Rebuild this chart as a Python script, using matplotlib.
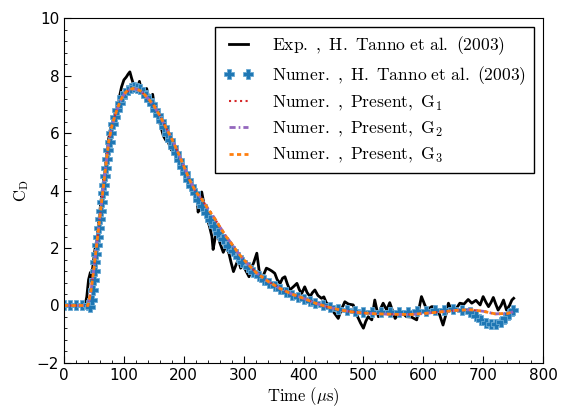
import matplotlib
matplotlib.use('Agg')
import matplotlib.pyplot as plt
from matplotlib.ticker import AutoMinorLocator

plt.rcParams['mathtext.fontset'] = 'cm'

# Experiment, H. Tanno et al. (2003)
t_exp = [0, 35, 38, 41, 44, 46, 49, 52, 55, 58, 61, 65, 69, 73, 77, 80, 83, 86, 90, 93,
         96, 100, 104, 107, 110, 113, 116, 119, 122, 126, 130, 134, 138, 142, 145, 148, 152,
         156, 160, 166, 170, 174, 178, 182, 188, 193, 197, 201, 205, 210, 214, 218, 221, 224,
         227, 230, 234, 238, 243, 247, 249, 252, 255, 260, 266, 271, 275, 279, 283, 287, 291,
         295, 299, 304, 309, 313, 317, 322, 326, 330, 334, 338, 343, 347, 352, 356, 361, 365,
         369, 373, 377, 383, 389, 393, 397, 402, 406, 411, 415, 419, 424, 430, 434, 438, 444,
         451, 458, 463, 469, 475, 483, 489, 495, 500, 504, 508, 514, 519, 525, 529, 533, 539,
         544, 549, 553, 557, 561, 567, 572, 580, 589, 593, 597, 602, 606, 610, 614, 620, 627,
         633, 638, 642, 647, 653, 657, 661, 668, 675, 681, 688, 695, 700, 705, 709, 713, 717,
         721, 725, 730, 734, 739, 744, 748, 751]
cd_exp = [0, 0, 0.3, 0.9, 1.15, 1.0, 1.5, 2.0, 2.3, 2.9, 3.5, 4.2, 4.8, 5.6, 6.1, 6.3, 6.5,
          6.7, 6.85, 7.3, 7.6, 7.85, 7.95, 8.05, 8.13, 7.9, 7.7, 7.65, 7.55, 7.8, 7.4, 7.5,
          7.55, 7.2, 7.25, 7.35, 6.8, 6.55, 6.35, 5.9, 5.75, 5.7, 5.45, 5.35, 5.15, 4.95, 4.75,
          4.6, 4.48, 4.4, 4.2, 3.9, 4.0, 3.25, 3.5, 3.95, 3.5, 3.1, 2.75, 2.4, 1.95, 2.3, 2.6,
          2.2, 1.85, 2.1, 1.85, 1.5, 1.18, 1.4, 1.6, 1.3, 1.4, 1.2, 1.0, 1.3, 1.5, 1.82, 1.2,
          0.83, 1.1, 1.3, 1.25, 1.2, 1.12, 0.9, 0.77, 0.95, 1.0, 0.75, 0.54, 0.65, 0.77, 0.55,
          0.42, 0.65, 0.45, 0.31, 0.45, 0.54, 0.35, 0.25, 0.3, 0.1, -0.04, -0.25, -0.45,
          -0.15, 0.13, 0.05, 0.02, -0.33, -0.6, -0.79, -0.55, -0.39, -0.5, 0.19, -0.39, -0.1,
          0.08, -0.16, 0.1, -0.2, -0.45, -0.35, -0.27, -0.3, -0.39, -0.4, -0.5, -0.1, 0.31,
          0.05, -0.16, -0.1, -0.04, -0.05, -0.3, -0.68, -0.3, 0.08, -0.16, -0.15, -0.05, 0.08,
          0.05, 0.21, 0.08, 0.18, 0.02, 0.31, 0.1, -0.04, 0.1, 0.28, 0.05, -0.16, 0.0, 0.19,
          -0.16, 0.0, 0.19, 0.25]

# Numerical, H. Tanno et al. (2003)
t_tanno = [0, 10, 20, 30, 40, 43, 46, 48, 49.5, 51, 52.5, 54, 55.5, 57, 58.5, 60, 61.5, 63,
           64.5, 66, 68, 70, 72, 74, 76, 79, 82, 85, 89, 93, 97, 102, 107, 112, 117, 122, 127,
           132, 137, 142, 147, 152, 157, 162, 167, 172, 177, 182, 187, 192, 197, 202, 207,
           212, 218, 224, 230, 237, 244, 251, 258, 266, 274, 282, 290, 298, 307, 316, 325,
           334, 343, 352, 361, 370, 380, 390, 400, 410, 420, 432, 445, 458, 472, 486, 500,
           515, 530, 545, 560, 575, 590, 605, 620, 635, 650, 665, 678, 688, 697, 705, 713,
           721, 729, 737, 744, 750]
cd_tanno = [0, 0, 0, 0, 0, -0.05, 0.2, 0.55, 0.9, 1.2, 1.5, 1.8, 2.1, 2.4, 2.7, 3.0, 3.3, 3.6,
            3.9, 4.2, 4.5, 4.8, 5.1, 5.4, 5.7, 6.0, 6.3, 6.55, 6.8, 7.05, 7.25, 7.4, 7.5, 7.57,
            7.6, 7.58, 7.52, 7.42, 7.3, 7.15, 7.0, 6.82, 6.62, 6.42, 6.2, 5.98, 5.75, 5.52, 5.3,
            5.06, 4.83, 4.6, 4.38, 4.15, 3.92, 3.68, 3.46, 3.22, 2.98, 2.75, 2.53, 2.3, 2.08,
            1.88, 1.7, 1.52, 1.35, 1.18, 1.03, 0.9, 0.78, 0.67, 0.57, 0.47, 0.38, 0.3, 0.22,
            0.14, 0.07, 0.0, -0.06, -0.12, -0.17, -0.2, -0.22, -0.24, -0.24, -0.24, -0.23,
            -0.22, -0.2, -0.18, -0.16, -0.14, -0.13, -0.14, -0.22, -0.35, -0.5, -0.6, -0.65,
            -0.64, -0.57, -0.45, -0.3, -0.17]

# Present simulations, grids G1, G2, G3
t_num = [0, 40, 45, 50, 55, 60, 65, 70, 75, 80, 85, 90, 95, 100, 105, 110, 115, 120, 125,
         130, 140, 150, 160, 170, 180, 190, 200, 210, 220, 230, 240, 250, 260, 270, 280, 290,
         300, 320, 340, 360, 380, 400, 420, 440, 460, 480, 500, 520, 540, 560, 580, 600, 620,
         640, 660, 680, 700, 720, 740, 750]
cd_g1 = [0, 0, 0.5, 1.3, 2.2, 3.1, 4.0, 4.9, 5.75, 6.25, 6.6, 6.9, 7.15, 7.33, 7.44, 7.5,
         7.53, 7.52, 7.48, 7.42, 7.2, 6.95, 6.6, 6.2, 5.8, 5.35, 4.85, 4.35, 3.95, 3.7, 3.38,
         3.08, 2.75, 2.42, 2.15, 1.85, 1.6, 1.16, 0.85, 0.6, 0.4, 0.25, 0.08, -0.05, -0.15,
         -0.22, -0.26, -0.29, -0.3, -0.31, -0.31, -0.28, -0.24, -0.2, -0.16, -0.15, -0.2,
         -0.3, -0.28, -0.22]
cd_g2 = [0, 0, 0.5, 1.3, 2.2, 3.1, 4.0, 4.9, 5.75, 6.25, 6.6, 6.9, 7.15, 7.34, 7.45, 7.51,
         7.54, 7.53, 7.49, 7.43, 7.21, 6.95, 6.6, 6.2, 5.8, 5.35, 4.85, 4.36, 3.96, 3.7, 3.38,
         3.08, 2.75, 2.42, 2.15, 1.85, 1.6, 1.16, 0.85, 0.6, 0.4, 0.25, 0.08, -0.05, -0.15,
         -0.22, -0.26, -0.29, -0.3, -0.31, -0.31, -0.28, -0.24, -0.2, -0.16, -0.15, -0.2,
         -0.29, -0.28, -0.22]
cd_g3 = [0, 0, 0.5, 1.3, 2.2, 3.1, 4.0, 4.9, 5.75, 6.25, 6.6, 6.9, 7.16, 7.35, 7.46, 7.52,
         7.55, 7.54, 7.5, 7.44, 7.22, 6.96, 6.61, 6.2, 5.8, 5.35, 4.85, 4.36, 3.96, 3.7, 3.38,
         3.08, 2.75, 2.42, 2.15, 1.85, 1.6, 1.16, 0.85, 0.6, 0.4, 0.25, 0.08, -0.05, -0.15,
         -0.22, -0.26, -0.29, -0.3, -0.31, -0.31, -0.28, -0.24, -0.2, -0.16, -0.15, -0.2,
         -0.29, -0.28, -0.22]

fig = plt.figure(figsize=(5.64, 4.12), dpi=100)
ax = fig.add_axes([0.1135, 0.119, 0.8493, 0.837])

ax.plot(t_exp, cd_exp, color='black', lw=2,
        label=r'$\mathrm{Exp.\ ,\ H.\ Tanno\ et\ al.\ (2003)}$')
ax.plot(t_tanno, cd_tanno, 'P', color='#1f77b4', ms=6.5, mew=0.6, mec='#6aaad4',
        label=r'$\mathrm{Numer.\ ,\ H.\ Tanno\ et\ al.\ (2003)}$')
ax.plot(t_num, cd_g1, ':', color='#d62728', lw=1.5,
        label=r'$\mathrm{Numer.\ ,\ Present,\ G_1}$')
ax.plot(t_num, cd_g2, color='#9467bd', lw=2, dashes=(2.2, 1.1, 0.6, 1.1),
        label=r'$\mathrm{Numer.\ ,\ Present,\ G_2}$')
ax.plot(t_num, cd_g3, color='#ff7f0e', lw=2, dashes=(1.5, 1.2),
        label=r'$\mathrm{Numer.\ ,\ Present,\ G_3}$')

ax.set_xlim(0, 800)
ax.set_ylim(-2, 10)
ax.xaxis.set_minor_locator(AutoMinorLocator(5))
ax.yaxis.set_minor_locator(AutoMinorLocator(5))
ax.tick_params(which='both', direction='in', labelsize=11)
ax.tick_params(which='major', length=5)
ax.tick_params(which='minor', length=2.5)

ax.set_xlabel(r'$\mathrm{Time\ (\mu s)}$', fontsize=12, labelpad=2)
ax.set_ylabel(r'$\mathrm{C_D}$', fontsize=12)

leg = ax.legend(loc='upper right', fontsize=12.6, numpoints=2, fancybox=False,
                edgecolor='black', framealpha=1, labelspacing=0.38,
                handlelength=1.7, handletextpad=1.1, borderpad=0.45)
leg.get_frame().set_linewidth(1.0)

fig.savefig('out.png', dpi=100)
